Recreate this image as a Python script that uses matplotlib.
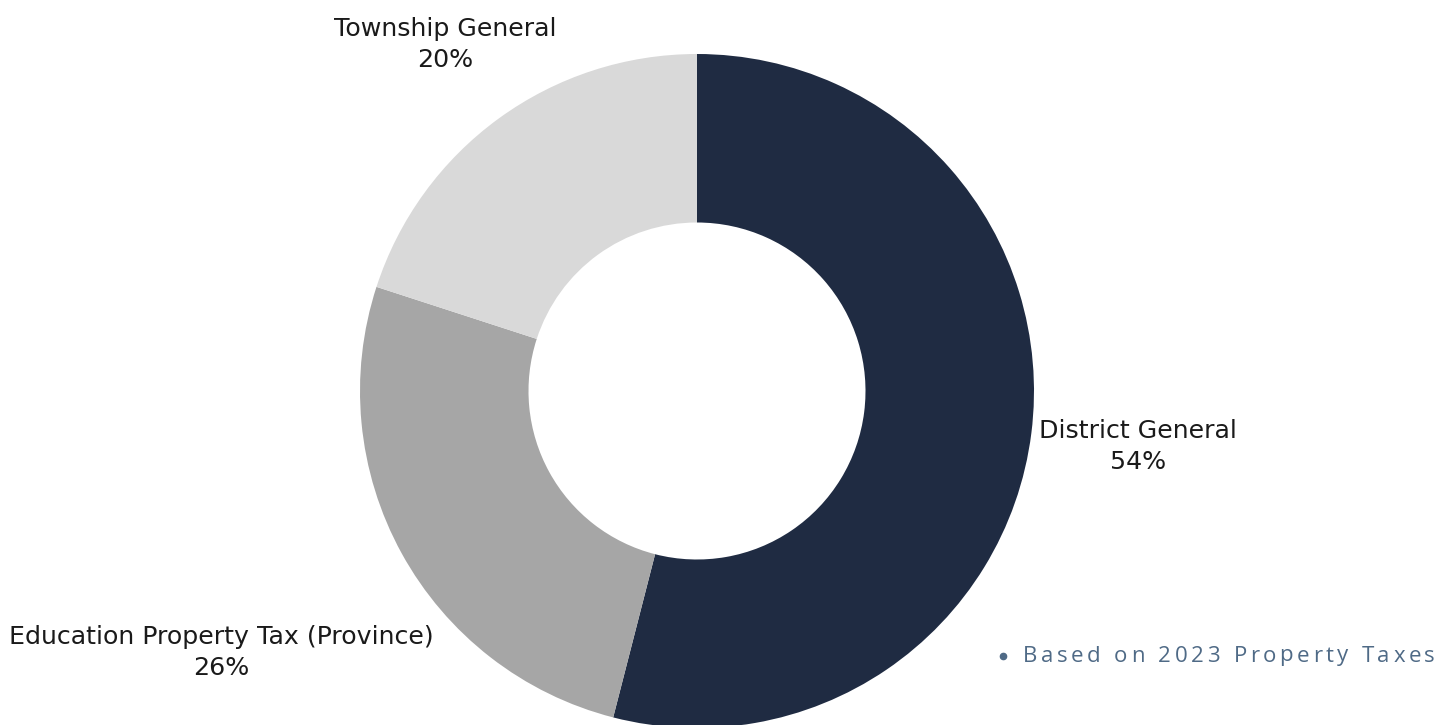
import matplotlib
matplotlib.use("Agg")
import matplotlib.pyplot as plt
import numpy as np

categories = ["District General", "Education Property Tax (Province)", "Township General"]
values = [54, 26, 20]
colors = ["#1F2B42", "#A6A6A6", "#D9D9D9"]
label_dist = [1.32, 1.61, 1.27]
note = "Based on 2023 Property Taxes"

W, H = 1452, 725
fig = plt.figure(figsize=(W / 100, H / 100), dpi=100)
ax = fig.add_axes([0, 0, 1, 1])

cx, cy, R = 697, H - 391, 337
wedges, _ = ax.pie(values, colors=colors, startangle=90, counterclock=False,
                   radius=R, center=(cx, cy),
                   wedgeprops=dict(width=R * 0.5, edgecolor="none"),
                   frame=True)
ax.set_xlim(0, W)
ax.set_ylim(0, H)
ax.set_aspect("equal")
ax.axis("off")

font = "DejaVu Sans"
for w, cat, v, d in zip(wedges, categories, values, label_dist):
    ang = np.deg2rad((w.theta1 + w.theta2) / 2)
    x = cx + R * d * np.cos(ang)
    y = cy + R * d * np.sin(ang)
    ax.text(x, y, f"{cat}\n{v}%", ha="center", va="center", fontsize=18.2,
            family=font, color="#1a1a1a", linespacing=1.36)

# footnote with letter spacing
note_color = "#4F6A86"
ax.plot([1003], [H - 656], marker="o", markersize=4.5, color=note_color)
renderer = fig.canvas.get_renderer()
x0, x1, yn = 1023, 1435, H - 656
fs_note = 16
widths = []
for ch in note:
    t = ax.text(0, 0, ch if ch != " " else "n", fontsize=fs_note, family="Open Sans")
    bb = t.get_window_extent(renderer=renderer)
    widths.append(bb.width if ch != " " else bb.width * 0.5)
    t.remove()
gap = (x1 - x0 - sum(widths)) / (len(note) - 1)
xpos = x0
for ch, wd in zip(note, widths):
    if ch != " ":
        ax.text(xpos, yn, ch, ha="left", va="center", fontsize=fs_note,
                family="Open Sans", color=note_color)
    xpos += wd + gap

fig.savefig("out.png", dpi=100)
